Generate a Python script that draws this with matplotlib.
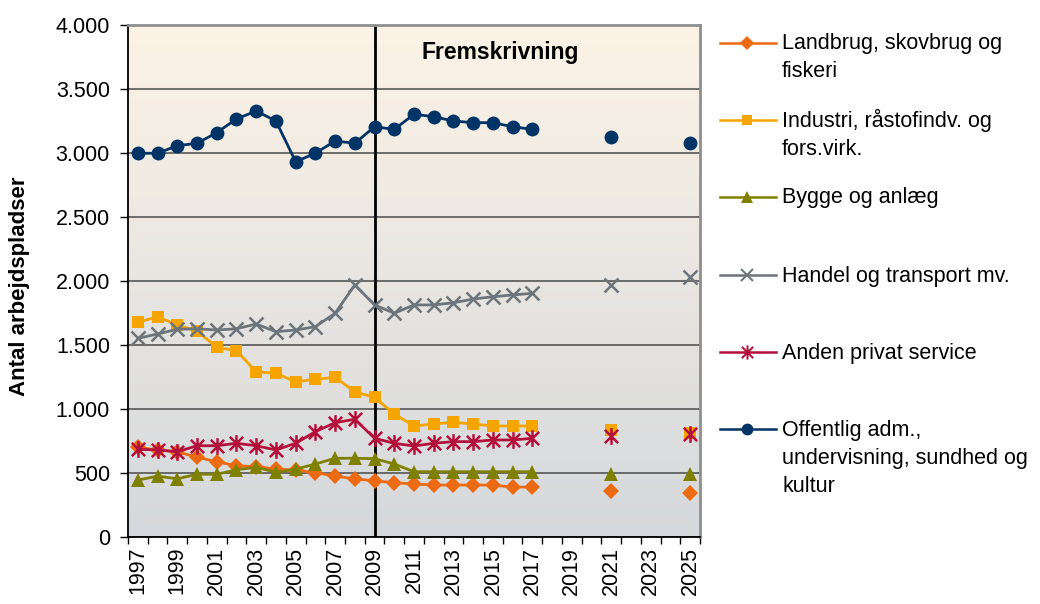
import numpy as np
import matplotlib
matplotlib.use("Agg")
import matplotlib.pyplot as plt
from matplotlib.lines import Line2D
from matplotlib.path import Path
from matplotlib.ticker import FuncFormatter

plt.rcParams['font.family'] = ['Liberation Sans', 'DejaVu Sans']

# ---------------- data ----------------
years = list(range(1997, 2026))
nan = np.nan
gap = [nan, nan, nan]

landbrug = [700, 680, 666, 623, 588, 557, 549, 531, 523, 502, 477, 453, 440,
            424, 414, 406, 406, 406, 406, 390, 390] + gap + [362] + gap + [341]
industri = [1677, 1721, 1656, 1609, 1482, 1455, 1291, 1279, 1213, 1232, 1248, 1135, 1090,
            961, 867, 883, 896, 883, 867, 867, 867] + gap + [836] + gap + [815]
bygge = [445, 475, 455, 490, 490, 525, 545, 505, 530, 570, 615, 615, 612,
         570, 510, 510, 510, 510, 510, 510, 510] + gap + [490] + gap + [490]
handel = [1552, 1586, 1623, 1627, 1617, 1627, 1664, 1604, 1617, 1643, 1748, 1969, 1813,
          1748, 1813, 1813, 1830, 1859, 1877, 1891, 1904] + gap + [1969] + gap + [2034]
anden = [685, 680, 666, 713, 713, 732, 713, 680, 732, 823, 893, 920, 771,
         732, 711, 732, 745, 745, 758, 758, 771] + gap + [789] + gap + [805]
offentlig = [2998, 2998, 3057, 3076, 3159, 3266, 3328, 3250, 2932, 2998, 3094, 3076, 3205,
             3185, 3302, 3284, 3250, 3237, 3237, 3205, 3185] + gap + [3122] + gap + [3076]

labels = [["Landbrug, skovbrug og", "fiskeri"],
          ["Industri, råstofindv. og", "fors.virk."],
          ["Bygge og anlæg"],
          ["Handel og transport mv."],
          ["Anden privat service"],
          ["Offentlig adm.,", "undervisning, sundhed og", "kultur"]]
series = [landbrug, industri, bygge, handel, anden, offentlig]
colors = ["#EC6B12", "#F5A400", "#808000", "#6C757B", "#B3103C", "#003366"]

ytick_vals = list(range(0, 4001, 500))
xlabel_years = list(range(1997, 2026, 2))
title_text = "Fremskrivning"
ylabel_text = "Antal arbejdspladser"
split_year = 2009

# ---------------- markers ----------------
ast = Path([(0, -1), (0, 1), (-0.8, -0.8), (0.8, 0.8), (-0.8, 0.8), (0.8, -0.8)],
           [Path.MOVETO, Path.LINETO, Path.MOVETO, Path.LINETO, Path.MOVETO, Path.LINETO])
mstyles = [dict(marker="D", ms=8.5, mew=0),
           dict(marker="s", ms=9, mew=0),
           dict(marker="^", ms=10, mew=0),
           dict(marker="x", ms=10, mew=1.8),
           dict(marker=ast, ms=12, mew=1.8),
           dict(marker="o", ms=10, mew=0)]

# ---------------- figure ----------------
fig = plt.figure(figsize=(10.4, 6.04), dpi=100)
ax = fig.add_axes([128 / 1040, 1 - 537 / 604, 572 / 1040, 512 / 604])

# gradient background
top = np.array([252, 243, 230]) / 255
bot = np.array([213, 216, 220]) / 255
t = np.linspace(0, 1, 256)[:, None]
grad = (top[None, :] * (1 - t) + bot[None, :] * t)[:, None, :]
ax.imshow(grad, extent=[0, 1, 0, 1], transform=ax.transAxes, aspect="auto", zorder=-2)

x = np.array(years, dtype=float)
for vals, c, ms in zip(series, colors, mstyles):
    y = np.array(vals, dtype=float)
    ax.plot(x, y, color=c, lw=2.0, marker=ms["marker"], ms=ms["ms"],
            mew=ms["mew"], mfc=c, mec=c, zorder=3)

ax.axvline(split_year, color="black", lw=2, zorder=2.5)

ax.set_xlim(1996.5, 2025.5)
ax.set_ylim(0, 4000)
ax.set_yticks(ytick_vals)
ax.yaxis.set_major_formatter(FuncFormatter(lambda v, p: f"{int(v):,}".replace(",", ".")))
ax.yaxis.grid(True, color="#4a4a4a", lw=1.1)
ax.set_axisbelow(True)

ax.set_xticks(np.arange(1996.5, 2026, 1))
ax.set_xticklabels([])
ax.set_xticks(xlabel_years, minor=True)
ax.set_xticklabels([str(v) for v in xlabel_years], minor=True, rotation=90)
ax.tick_params(axis="x", which="major", length=5, width=1, direction="out", color="black")
ax.tick_params(axis="x", which="minor", length=0, pad=7, labelsize=15.5)
ax.tick_params(axis="y", length=6, width=1, direction="out", pad=7, labelsize=15.5)

for s in ["left", "bottom"]:
    ax.spines[s].set_color("black")
    ax.spines[s].set_linewidth(1.3)
for s in ["top", "right"]:
    ax.spines[s].set_color("#8E8E8E")
    ax.spines[s].set_linewidth(2)

ax.text(0.65, 0.947, title_text, transform=ax.transAxes, ha="center", va="center",
        fontsize=16.5, fontweight="bold")

fig.text(20 / 1040, 1 - 286 / 604, ylabel_text, rotation=90, ha="center", va="center",
         fontsize=16, fontweight="bold")

# ---------------- legend (manual) ----------------
handle_y = [42.7, 120, 196.7, 275, 352.3, 429.3]
line_gap = 27.8
for lab, c, ms, hy in zip(labels, colors, mstyles, handle_y):
    fy = 1 - hy / 604
    fig.add_artist(Line2D([720 / 1040, 776 / 1040], [fy, fy], transform=fig.transFigure,
                          color=c, lw=1.8))
    fig.add_artist(Line2D([747 / 1040], [fy], transform=fig.transFigure, color=c,
                          marker=ms["marker"], ms=ms["ms"] * 0.85, mew=ms["mew"] * 0.8,
                          mfc=c, mec=c, lw=0))
    for i, line in enumerate(lab):
        by = hy + 6.7 + i * line_gap
        fig.text(782 / 1040, 1 - by / 604, line, ha="left", va="baseline", fontsize=15.5)

fig.savefig("out.png", dpi=100)
